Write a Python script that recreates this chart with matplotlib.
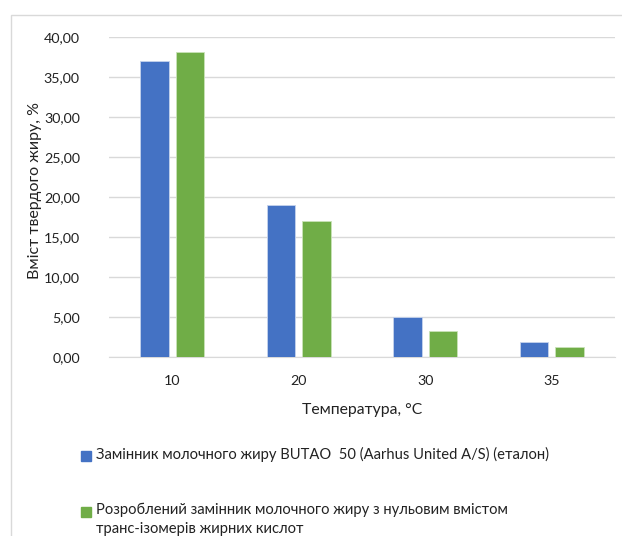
import numpy as np
import matplotlib
matplotlib.use('Agg')
from matplotlib import pyplot as plt
from matplotlib.patches import Rectangle

plt.rcParams['font.family'] = ['Lato', 'DejaVu Sans']

temps = ['10', '20', '30', '35']
etalon = [37.0, 19.0, 5.0, 1.85]
developed = [38.1, 17.0, 3.25, 1.3]
legend_labels = [
    'Замінник молочного жиру BUTAO  50 (Aarhus United A/S) (еталон)',
    'Розроблений замінник молочного жиру з нульовим вмістом\nтранс-ізомерів жирних кислот',
]
yticks = np.arange(0, 45, 5)

blue = '#4472C4'
green = '#70AD47'
txt = '#222222'

W, H = 622, 536
fig = plt.figure(figsize=(W / 100, H / 100), dpi=100)
ax = fig.add_axes([109 / W, 1 - 357 / H, (615 - 109) / W, 320 / H])

# outer chart frame
fig.patches.append(Rectangle((11 / W, -0.1), 1.2, 1 - 15 / H + 0.1,
                             transform=fig.transFigure, fill=False,
                             edgecolor='#d9d9d9', linewidth=1))

x = np.arange(len(temps))
w = 0.225
ax.bar(x - 0.14, etalon, w, color=blue, edgecolor='#c5d3ec', linewidth=0.6, zorder=3)
ax.bar(x + 0.14, developed, w, color=green, edgecolor='#c9e3b8', linewidth=0.6, zorder=3)

ax.set_xlim(-0.5, len(temps) - 0.5)
ax.set_ylim(0, 40)
ax.set_yticks(yticks)
ax.set_yticklabels([f'{v:.2f}'.replace('.', ',') for v in yticks])
ax.set_xticks(x)
ax.set_xticklabels(temps)
ax.tick_params(length=0, labelsize=10.3, colors=txt)
ax.tick_params(axis='x', pad=13)
ax.tick_params(axis='y', pad=21)
ax.grid(axis='y', color='#d9d9d9', linewidth=1, zorder=0)
for s in ['top', 'right', 'left']:
    ax.spines[s].set_visible(False)
ax.spines['bottom'].set_color('#d9d9d9')
ax.spines['bottom'].set_zorder(1)

ax.set_ylabel('Вміст твердого жиру, %', fontsize=11.5, color=txt)
ax.yaxis.set_label_coords(-0.146, 0.52)
ax.set_xlabel('Температура, °С', fontsize=11.3, color=txt)
ax.xaxis.set_label_coords(0.5, -0.166)
ax.xaxis.label.set_va('center')
ax.yaxis.label.set_va('center')

# legend below the plot
for i, (lab, col) in enumerate(zip(legend_labels, [blue, green])):
    ty = 456 + i * 56
    fig.patches.append(Rectangle((81 / W, 1 - (ty + 5) / H), 10 / W, 10 / H,
                                 transform=fig.transFigure, color=col))
    fig.text(96 / W, 1 - (ty - 9) / H, lab, fontsize=10.6, color=txt,
             va='top', ha='left', linespacing=1.45)

fig.savefig('out.png', dpi=100)
